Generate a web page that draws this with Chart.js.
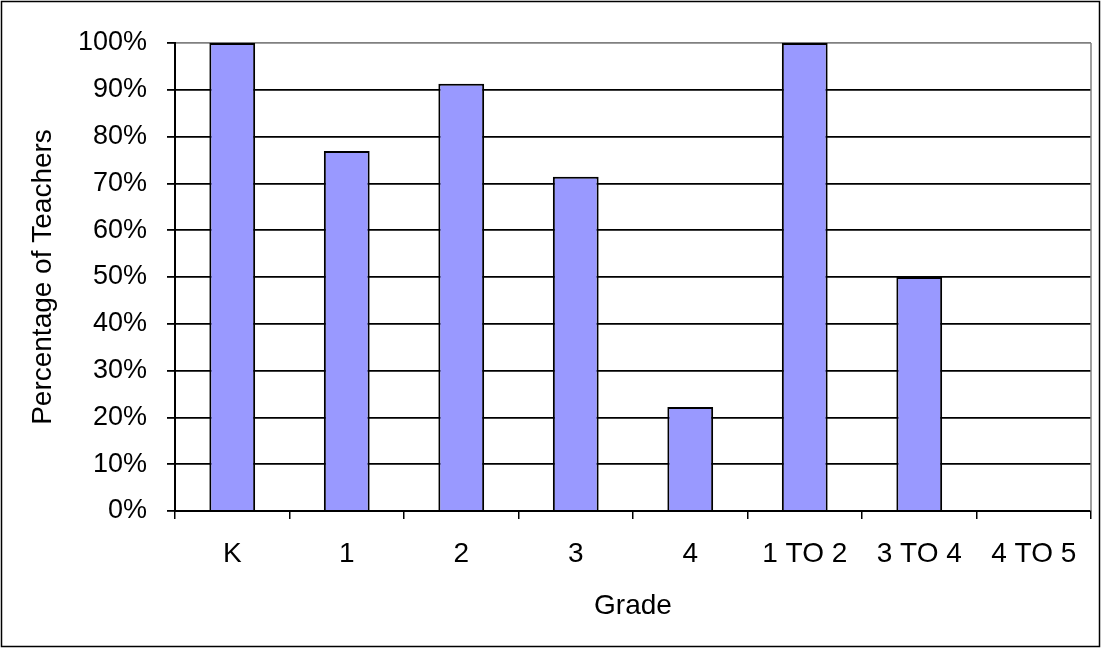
<!DOCTYPE html>
<html>
<head>
<meta charset="utf-8">
<script src="https://cdn.jsdelivr.net/npm/chart.js@4/dist/chart.umd.min.js"></script>
<style>
    body { margin: 0; background: #fff; }
    #wrap { width: 1104px; height: 649px; }
</style>
</head>
<body>
<div id="wrap"><canvas id="graph" width="1104" height="649"></canvas></div>
<script>
let grades = ["K", "1", "2", "3", "4", "1 TO 2", "3 TO 4", "4 TO 5"];
let percentTeachers = [100, 76.9, 91.3, 71.4, 22.2, 100, 50, 0];
let yTicks = [0, 10, 20, 30, 40, 50, 60, 70, 80, 90, 100];

const fontName = "'Liberation Sans', Arial, sans-serif";

// outer frame + grey right edge of the plot
const framePlugin = {
    id: "frame",
    afterDraw(chart) {
        let ctx = chart.ctx;
        let area = chart.chartArea;
        ctx.save();
        ctx.strokeStyle = "#808080";
        ctx.lineWidth = 1.5;
        ctx.beginPath();
        ctx.moveTo(area.right, area.top);
        ctx.lineTo(area.right, area.bottom);
        ctx.stroke();
        ctx.strokeStyle = "#000";
        ctx.lineWidth = 1.5;
        ctx.strokeRect(1.5, 1.5, 1098, 645);
        ctx.restore();
    }
};

const data = {
    labels: grades,
    datasets: [{
        data: percentTeachers,
        backgroundColor: "#9999FF",
        borderColor: "#000",
        borderWidth: 2,
        categoryPercentage: 1,
        barPercentage: 0.4
    }]
};

const config = {
    type: "bar",
    data: data,
    plugins: [framePlugin],
    options: {
        responsive: false,
        animation: false,
        layout: { padding: { left: 0, top: 43, right: 13, bottom: 0 } },
        plugins: { legend: { display: false }, tooltip: { enabled: false } },
        scales: {
            x: {
                afterFit: (scale) => { scale.height = 138; },
                grid: { offset: true, drawOnChartArea: false, color: "#000", tickLength: 8, lineWidth: 1.5 },
                border: { color: "#000", width: 2 },
                ticks: { color: "#000", font: { family: fontName, size: 28 }, padding: 18, maxRotation: 0, autoSkip: false },
                title: { display: true, text: "Grade", color: "#000", font: { family: fontName, size: 28 }, padding: { bottom: 26 } }
            },
            y: {
                min: 0,
                max: 100,
                afterFit: (scale) => { scale.width = 175; },
                afterBuildTicks: (scale) => { scale.ticks = yTicks.map(v => ({ value: v })); },
                grid: {
                    color: (c) => c.tick && c.tick.value === 100 ? "#808080" : "#000",
                    tickColor: "#000",
                    tickLength: 8,
                    lineWidth: 1.8
                },
                border: { color: "#000", width: 2 },
                ticks: { color: "#000", font: { family: fontName, size: 27 }, padding: 20, callback: (v) => v + "%" },
                title: { display: true, text: "Percentage of Teachers", color: "#000", font: { family: fontName, size: 28 }, padding: { top: 26 } }
            }
        }
    }
};

let myChart = new Chart(document.getElementById("graph"), config);
</script>
</body>
</html>
